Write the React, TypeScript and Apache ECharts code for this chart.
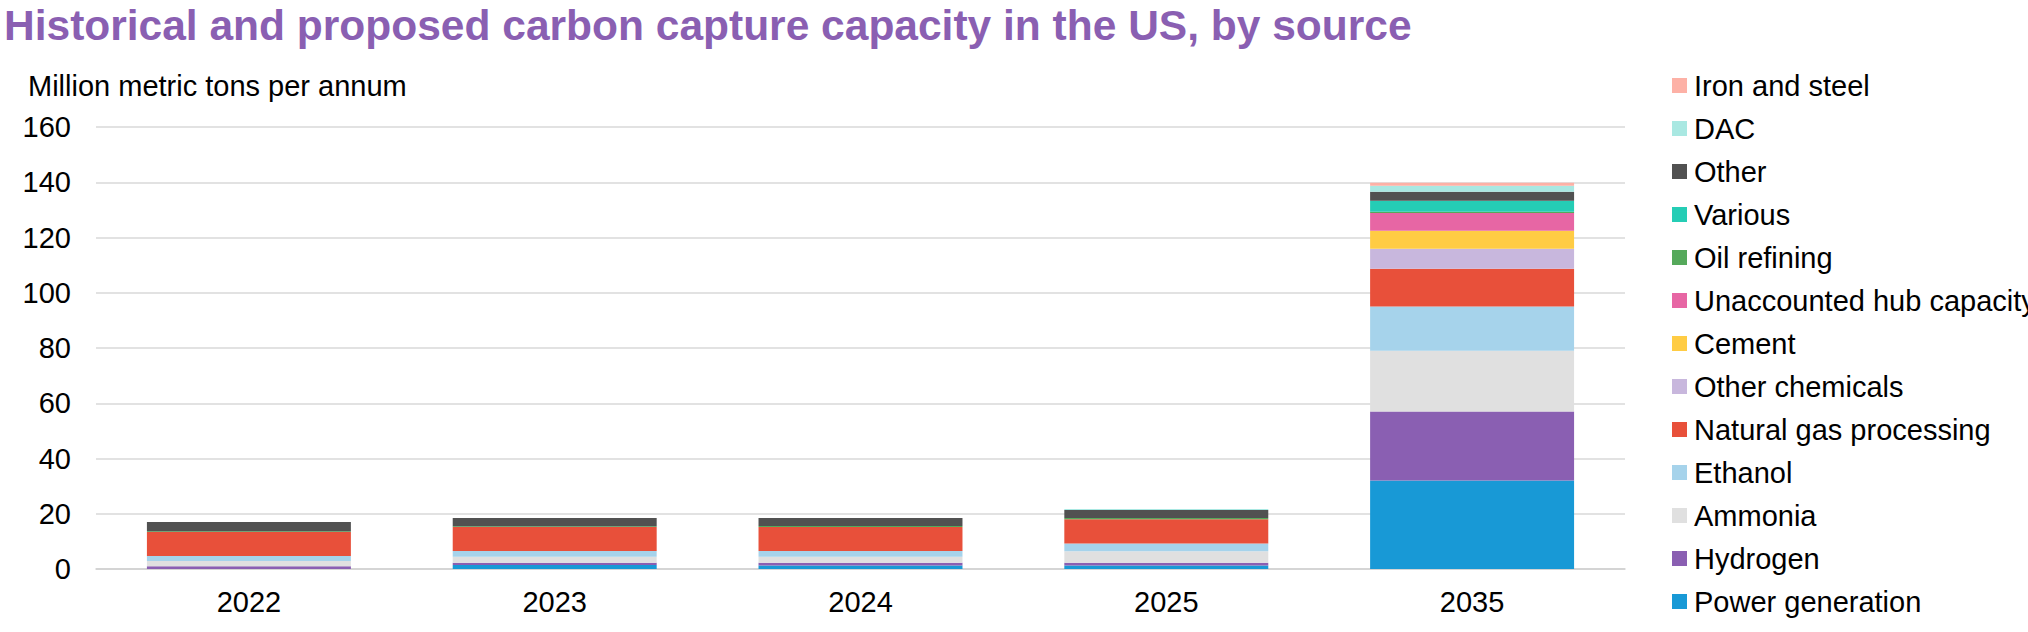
import { useEffect, useRef } from 'react';
import * as echarts from 'echarts';

const years = ['2022', '2023', '2024', '2025', '2035'];

// stacked from the bottom up, million metric tons per annum
const powerGeneration = [0, 1.45, 1.3, 1.3, 32];
const hydrogen = [1.0, 0.85, 1.0, 1.0, 25];
const ammonia = [1.9, 2.1, 2.1, 4.1, 22];
const ethanol = [1.8, 2.1, 2.1, 2.8, 16];
const naturalGas = [8.7, 8.7, 8.7, 8.8, 13.7];
const otherChemicals = [0, 0, 0, 0, 7.2];
const cement = [0, 0, 0, 0, 6.5];
const unaccountedHub = [0, 0, 0, 0, 6.5];
const oilRefining = [0.3, 0.3, 0.4, 0.5, 0.4];
const various = [0, 0, 0, 0, 4.0];
const other = [3.3, 3.0, 2.9, 2.9, 3.3];
const dac = [0, 0, 0, 0.3, 2.1];
const ironSteel = [0, 0, 0, 0, 1.1];

const sources = [
  { name: 'Power generation', data: powerGeneration, color: '#1899D6' },
  { name: 'Hydrogen', data: hydrogen, color: '#8A5FB2' },
  { name: 'Ammonia', data: ammonia, color: '#E0E0E0' },
  { name: 'Ethanol', data: ethanol, color: '#A6D3EB' },
  { name: 'Natural gas processing', data: naturalGas, color: '#E8503A' },
  { name: 'Other chemicals', data: otherChemicals, color: '#C8B7DD' },
  { name: 'Cement', data: cement, color: '#FFCC44' },
  { name: 'Unaccounted hub capacity', data: unaccountedHub, color: '#E766A4' },
  { name: 'Oil refining', data: oilRefining, color: '#55A95B' },
  { name: 'Various', data: various, color: '#25CDB5' },
  { name: 'Other', data: other, color: '#515151' },
  { name: 'DAC', data: dac, color: '#A9E8E2' },
  { name: 'Iron and steel', data: ironSteel, color: '#FDB1A6' },
];

const FONT = '"Liberation Sans", Arial, sans-serif';

export default function App() {
  const chartRef = useRef<HTMLDivElement>(null);

  useEffect(() => {
    document.body.style.margin = '0';
    if (!chartRef.current) return;
    const chart = echarts.init(chartRef.current, null, { renderer: 'svg' });

    chart.setOption({
      animation: false,
      backgroundColor: '#ffffff',
      textStyle: { fontFamily: FONT },
      graphic: [
        {
          type: 'text',
          left: 4,
          top: 4,
          style: {
            text: 'Historical and proposed carbon capture capacity in the US, by source',
            fontFamily: FONT,
            fontSize: 42.5,
            fontWeight: 'bold',
            fill: '#8A5FB2',
          },
        },
        {
          type: 'text',
          left: 28,
          top: 71,
          style: {
            text: 'Million metric tons per annum',
            fontFamily: FONT,
            fontSize: 29,
            fill: '#000000',
          },
        },
      ],
      legend: {
        orient: 'vertical',
        left: 1667,
        top: 66,
        icon: 'rect',
        itemWidth: 15,
        itemHeight: 15,
        itemGap: 14,
        data: sources.map((s) => s.name).reverse(),
        textStyle: {
          fontFamily: FONT,
          fontSize: 29,
          lineHeight: 29,
          color: '#000000',
          padding: [0, 0, 0, 2],
        },
      },
      grid: {
        left: 96,
        right: 403,
        top: 127,
        bottom: 63,
        containLabel: false,
      },
      xAxis: {
        type: 'category',
        data: years,
        axisTick: { show: false },
        axisLine: { lineStyle: { color: '#D0D0D0', width: 1.5 } },
        axisLabel: {
          fontFamily: FONT,
          fontSize: 29,
          color: '#000000',
          margin: 18,
        },
      },
      yAxis: {
        type: 'value',
        min: 0,
        max: 160,
        interval: 20,
        axisLine: { show: false },
        axisTick: { show: false },
        splitLine: { lineStyle: { color: '#D9D9D9', width: 1.5 } },
        axisLabel: {
          fontFamily: FONT,
          fontSize: 29,
          color: '#000000',
          margin: 25,
        },
      },
      series: sources.map((s) => ({
        name: s.name,
        type: 'bar',
        stack: 'total',
        barWidth: '66.7%',
        data: s.data,
        itemStyle: { color: s.color },
      })),
    });

    return () => {
      chart.dispose();
    };
  }, []);

  return <div ref={chartRef} style={{ width: 2028, height: 632 }} />;
}
